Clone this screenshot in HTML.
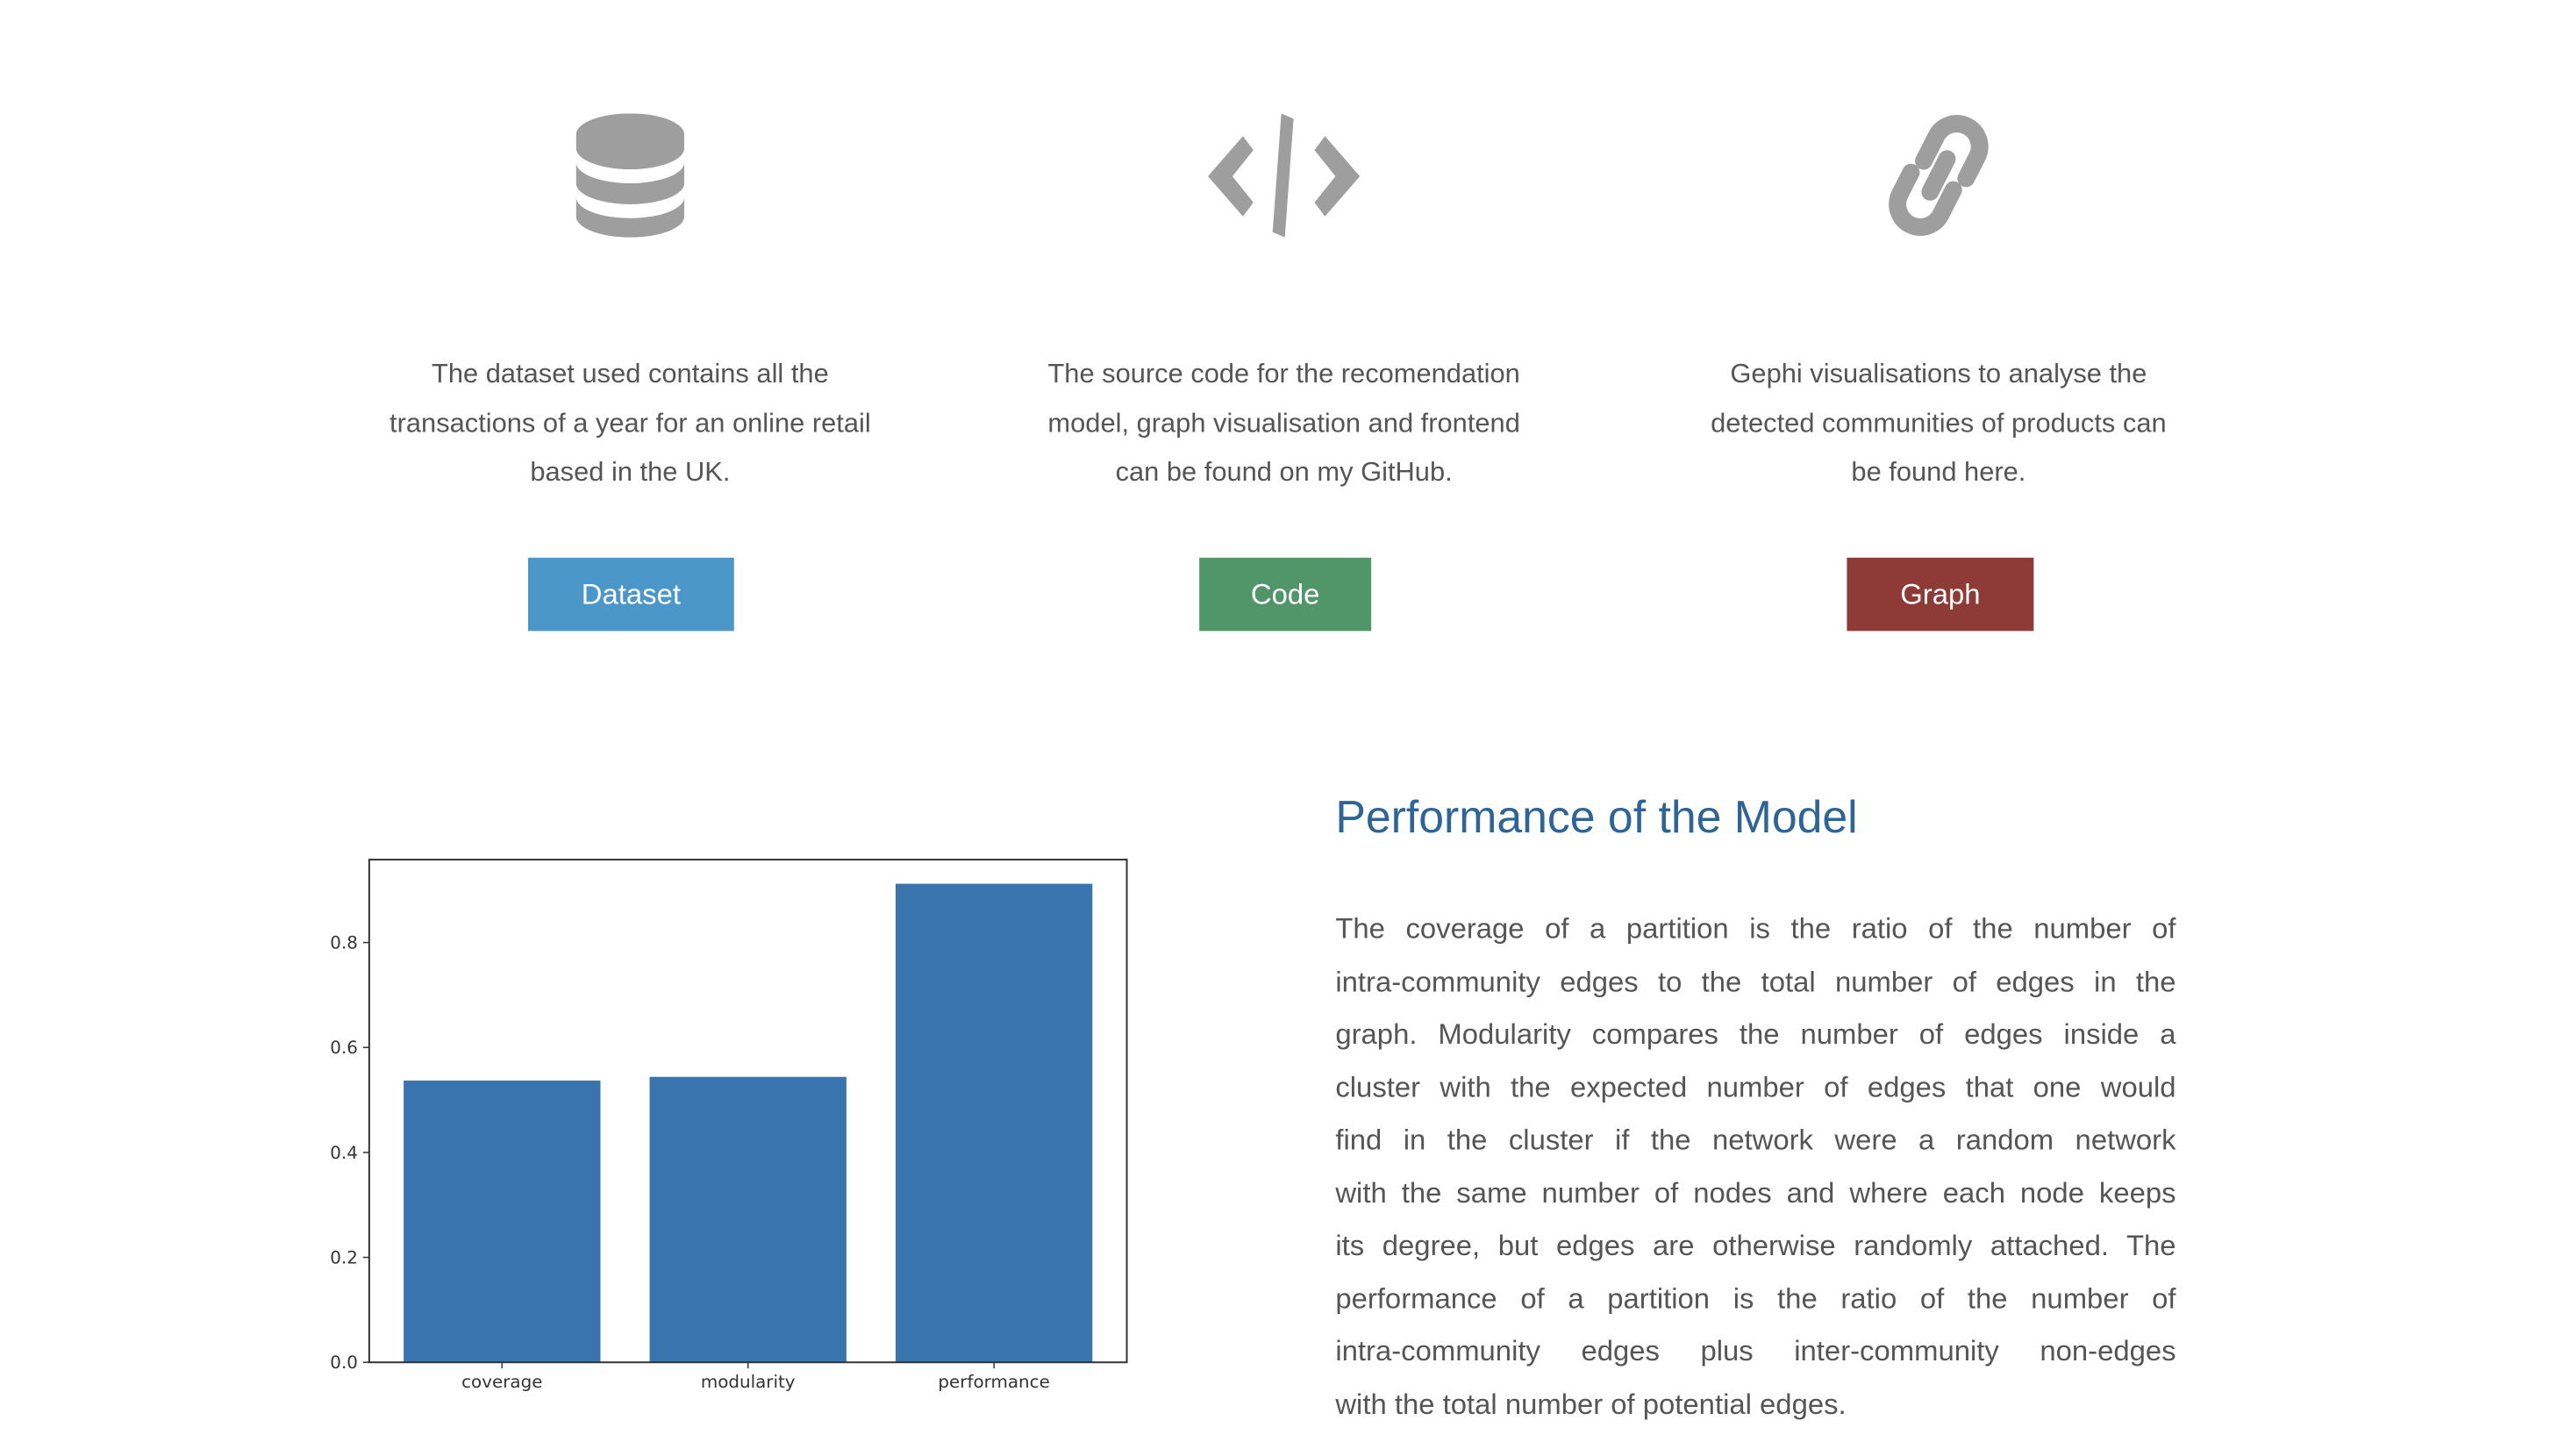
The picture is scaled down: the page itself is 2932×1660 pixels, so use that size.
<!DOCTYPE html>
<html><head><meta charset="utf-8">
<style>
html,body{margin:0;padding:0;background:#fff;}
body{width:2932px;height:1660px;position:relative;overflow:hidden;font-family:"Liberation Sans",sans-serif;color:#555;}
#wrap{position:absolute;left:0;top:0;width:2932px;height:1660px;transform:scale(0.995);transform-origin:0 0;}
.desc{position:absolute;width:700px;text-align:center;font-size:31px;line-height:56.5px;color:#555;}
.btn{position:absolute;color:#fff;font-size:33px;display:flex;align-items:center;justify-content:center;}
.para{position:absolute;left:1530px;top:1034px;width:963px;font-size:33px;line-height:60.5px;color:#555;}
.para div{text-align:justify;text-align-last:justify;white-space:nowrap;}
.para div.last{text-align-last:left;}
</style></head><body>
<div id="wrap">
<svg style="position:absolute;left:660px;top:130px" width="124" height="142" viewBox="0 0 124 142">
<g fill="#9e9e9e">
<path d="M0 24 A62 24 0 0 1 124 24 L124 40 A62 24 0 0 1 0 40 Z"/>
<path d="M0 56 A62 24 0 0 0 124 56 L124 80 A62 24 0 0 1 0 80 Z"/>
<path d="M0 96 A62 24 0 0 0 124 96 L124 118 A62 24 0 0 1 0 118 Z"/>
</g></svg>

<svg style="position:absolute;left:1384px;top:130px" width="174" height="142" viewBox="0 0 174 142">
<g fill="#9e9e9e">
<polygon points="40,26 52,42 28,72 52,102 40,118 0,72"/>
<polygon points="134,26 122,42 146,72 122,102 134,118 174,72"/>
<polygon points="84,0 98,6 88,142 74,136"/>
</g></svg>

<svg style="position:absolute;left:2150px;top:130px" width="142" height="142" viewBox="0 0 142 142">
<g fill="none" stroke="#9e9e9e" stroke-width="20" stroke-linecap="round" transform="rotate(-18 71 71)">
<path d="M60 50 L82 28 A26 26 0 0 1 120 64 L100 84"/>
<path d="M82 92 L60 114 A26 26 0 0 1 22 78 L42 58"/>
<path d="M56 86 L86 56"/>
</g></svg>

<div class="desc" style="left:372px;top:400px">The dataset used contains all the<br>transactions of a year for an online retail<br>based in the UK.</div>
<div class="desc" style="left:1121px;top:400px">The source code for the recomendation<br>model, graph visualisation and frontend<br>can be found on my GitHub.</div>
<div class="desc" style="left:1871px;top:400px">Gephi visualisations to analyse the<br>detected communities of products can<br>be found here.</div>

<div class="btn" style="left:605px;top:639px;width:236px;height:84px;background:#4b97c9">Dataset</div>
<div class="btn" style="left:1374px;top:639px;width:197px;height:84px;background:#519668">Code</div>
<div class="btn" style="left:2116px;top:639px;width:214px;height:84px;background:#8e3a36">Graph</div>

<div style="position:absolute;left:1530px;top:902px;font-size:52px;color:#2f6496;line-height:70px;">Performance of the Model</div>

<div class="para">
<div>The coverage of a partition is the ratio of the number of</div>
<div>intra-community edges to the total number of edges in the</div>
<div>graph. Modularity compares the number of edges inside a</div>
<div>cluster with the expected number of edges that one would</div>
<div>find in the cluster if the network were a random network</div>
<div>with the same number of nodes and where each node keeps</div>
<div>its degree, but edges are otherwise randomly attached. The</div>
<div>performance of a partition is the ratio of the number of</div>
<div>intra-community edges plus inter-community non-edges</div>
<div class="last">with the total number of potential edges.</div>
</div>

<svg id="chart" style="position:absolute;left:0;top:0" width="1400" height="1660"></svg>
</div>
<script>
const categories = ["coverage","modularity","performance"];
const values = [0.537, 0.544, 0.912];
const yTicks = [0.0, 0.2, 0.4, 0.6, 0.8];
const yTickLabels = ["0.0","0.2","0.4","0.6","0.8"];

const NS = "http://www.w3.org/2000/svg";
const svg = document.getElementById("chart");
const L=423, R=1291, T=985, B=1561;
const xMin=-0.54, xMax=2.54, yMin=0, yMax=0.958;
function xs(v){return L+(v-xMin)/(xMax-xMin)*(R-L);}
function ys(v){return B-(v-yMin)/(yMax-yMin)*(B-T);}
function mk(tag, attrs){const e=document.createElementNS(NS,tag);for(const k in attrs)e.setAttribute(k,attrs[k]);svg.appendChild(e);return e;}

categories.forEach((c,i)=>{
  const r=mk("rect",{x:xs(i-0.4),y:ys(values[i]),width:xs(i+0.4)-xs(i-0.4),height:ys(0)-ys(values[i]),fill:"#3a74ae"});
  
  
  const t=mk("line",{x1:xs(i),x2:xs(i),y1:B,y2:B+7,stroke:"#333","stroke-width":1.5});
  
  
  const lb=mk("text",{x:xs(i),y:B+29,"text-anchor":"middle","font-size":20,fill:"#333","font-family":"DejaVu Sans, sans-serif"});
  lb.textContent=c;
  
  
});
yTicks.forEach((v,i)=>{
  const t=mk("line",{x1:L-7,x2:L,y1:ys(v),y2:ys(v),stroke:"#333","stroke-width":1.5});
  
  
  const lb=mk("text",{x:L-13,y:ys(v)+7,"text-anchor":"end","font-size":20,fill:"#333","font-family":"DejaVu Sans, sans-serif"});
  lb.textContent=yTickLabels[i];
  
  
});
const frame=mk("rect",{x:L,y:T,width:R-L,height:B-T,fill:"none",stroke:"#333","stroke-width":2});


</script>
</body></html>
